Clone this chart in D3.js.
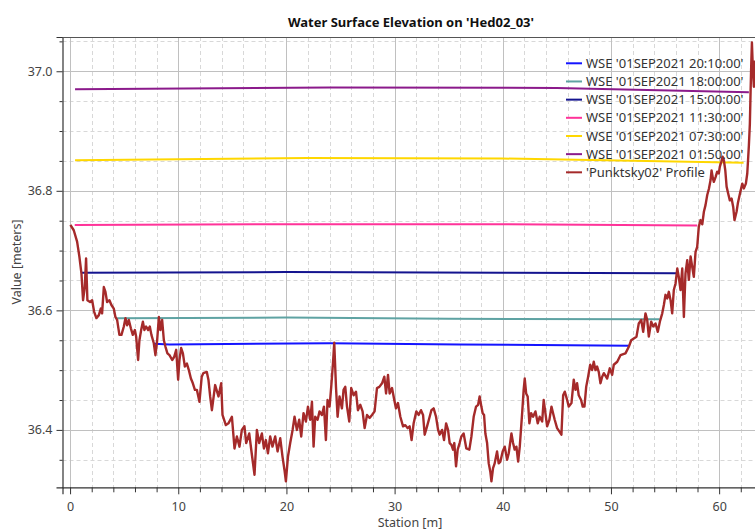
<!DOCTYPE html>
<html>
<head>
<meta charset="utf-8">
<script src="https://cdn.jsdelivr.net/npm/d3@7"></script>
<style>
  body { margin: 0; background: #fff; }
  svg { display: block; font-family: "Noto Sans", "Open Sans", sans-serif; }
</style>
</head>
<body>
<svg id="chart" width="755" height="532"></svg>
<script>
// ---- data ----
const chartTitle = "Water Surface Elevation on 'Hed02_03'";
const xTitle = "Station [m]";
const yTitle = "Value [meters]";

const xMajorTicks = [0, 10, 20, 30, 40, 50, 60];
const yMajorTicks = [36.4, 36.6, 36.8, 37.0];

// water surface profiles: label, colour, [station, elevation] points
const wseNames = [
  "WSE '01SEP2021 20:10:00'",
  "WSE '01SEP2021 18:00:00'",
  "WSE '01SEP2021 15:00:00'",
  "WSE '01SEP2021 11:30:00'",
  "WSE '01SEP2021 07:30:00'",
  "WSE '01SEP2021 01:50:00'"
];
const wseColors = ["#1414ff", "#5fa3a3", "#14148f", "#ff3399", "#ffd700", "#8b1a8b"];
const wse2010 = [[7.74, 36.544], [9.2, 36.543], [24.0, 36.545], [36.0, 36.543], [51.75, 36.541]];
const wse1800 = [[4.35, 36.587], [20.0, 36.588], [35.0, 36.586], [54.5, 36.585]];
const wse1500 = [[1.02, 36.663], [20.0, 36.664], [40.0, 36.663], [56.13, 36.662]];
const wse1130 = [[0.43, 36.743], [20.0, 36.744], [40.0, 36.744], [57.97, 36.742]];
const wse0730 = [[0.46, 36.851], [22.0, 36.855], [40.0, 36.854], [62.26, 36.847]];
const wse0150 = [[0.46, 36.970], [24.0, 36.973], [45.0, 36.972], [62.75, 36.965]];
const wseSeries = [wse2010, wse1800, wse1500, wse1130, wse0730, wse0150];

// ground profile
const profileName = "'Punktsky02' Profile";
const profileColor = "#a52a2a";
const profile = [
  [0.03,36.743],[0.34,36.734],[0.65,36.715],[0.86,36.690],[1.05,36.662],[1.20,36.617],[1.36,36.639],[1.48,36.687],[1.60,36.617],[1.85,36.614],
  [2.04,36.617],[2.22,36.598],[2.43,36.587],[2.66,36.592],[2.84,36.603],[2.96,36.595],[3.12,36.639],[3.27,36.631],[3.42,36.614],[3.64,36.617],
  [3.82,36.609],[4.04,36.603],[4.19,36.589],[4.35,36.584],[4.56,36.559],[4.75,36.559],[4.97,36.573],[5.12,36.587],[5.27,36.575],[5.43,36.584],
  [5.62,36.570],[5.80,36.559],[5.99,36.567],[6.11,36.556],[6.29,36.517],[6.41,36.550],[6.57,36.567],[6.73,36.581],[6.87,36.567],[7.03,36.573],
  [7.22,36.567],[7.37,36.573],[7.52,36.559],[7.74,36.545],[7.89,36.525],[8.05,36.550],[8.21,36.589],[8.35,36.567],[8.51,36.584],[8.67,36.550],
  [8.82,36.539],[9.00,36.528],[9.19,36.525],[9.44,36.517],[9.62,36.522],[9.81,36.534],[9.99,36.484],[10.11,36.517],[10.27,36.537],[10.43,36.528],
  [10.61,36.506],[10.80,36.511],[10.98,36.500],[11.17,36.486],[11.35,36.478],[11.54,36.467],[11.72,36.467],[11.96,36.447],[12.17,36.489],[12.32,36.495],
  [12.64,36.497],[12.79,36.484],[12.95,36.456],[13.11,36.433],[13.41,36.475],[13.72,36.456],[13.97,36.478],[14.09,36.425],[14.40,36.408],[14.64,36.411],
  [14.96,36.422],[15.20,36.369],[15.42,36.389],[15.66,36.372],[15.88,36.400],[16.12,36.406],[16.28,36.378],[16.56,36.394],[16.81,36.358],[17.05,36.325],
  [17.27,36.400],[17.48,36.378],[17.73,36.394],[17.92,36.369],[18.10,36.383],[18.29,36.361],[18.50,36.389],[18.71,36.372],[18.96,36.389],[19.18,36.364],
  [19.43,36.386],[19.64,36.355],[19.82,36.333],[19.95,36.314],[20.14,36.355],[20.35,36.378],[20.57,36.400],[20.75,36.422],[20.97,36.400],[21.18,36.417],
  [21.37,36.389],[21.58,36.428],[21.80,36.414],[21.99,36.439],[22.20,36.417],[22.36,36.447],[22.51,36.372],[22.66,36.422],[22.88,36.417],[23.06,36.431],
  [23.28,36.425],[23.47,36.439],[23.65,36.383],[23.80,36.450],[23.99,36.439],[24.14,36.472],[24.30,36.511],[24.42,36.546],[24.58,36.472],[24.73,36.422],
  [24.91,36.456],[25.13,36.436],[25.28,36.467],[25.44,36.472],[25.60,36.439],[25.81,36.414],[25.99,36.470],[26.21,36.458],[26.43,36.464],[26.61,36.433],
  [26.83,36.442],[27.04,36.431],[27.23,36.403],[27.45,36.425],[27.69,36.420],[27.91,36.425],[28.15,36.431],[28.37,36.470],[28.59,36.472],[28.84,36.478],
  [29.05,36.489],[29.21,36.461],[29.39,36.492],[29.54,36.461],[29.76,36.470],[29.97,36.450],[30.13,36.436],[30.31,36.445],[30.53,36.422],[30.78,36.406],
  [30.99,36.408],[31.20,36.403],[31.39,36.406],[31.57,36.383],[31.76,36.411],[32.01,36.431],[32.22,36.425],[32.44,36.433],[32.63,36.425],[32.78,36.392],
  [33.00,36.406],[33.21,36.420],[33.40,36.433],[33.61,36.436],[33.83,36.422],[34.02,36.400],[34.16,36.392],[34.39,36.400],[34.57,36.383],[34.76,36.411],
  [34.94,36.400],[35.09,36.378],[35.25,36.375],[35.40,36.367],[35.52,36.378],[35.68,36.339],[35.83,36.367],[36.01,36.378],[36.17,36.389],[36.38,36.394],
  [36.63,36.369],[36.91,36.367],[37.10,36.389],[37.31,36.422],[37.53,36.439],[37.72,36.442],[37.86,36.456],[38.02,36.439],[38.14,36.428],[38.27,36.425],
  [38.39,36.394],[38.55,36.378],[38.70,36.344],[38.85,36.330],[38.95,36.314],[39.10,36.336],[39.25,36.344],[39.47,36.364],[39.62,36.344],[39.78,36.347],
  [39.99,36.364],[40.18,36.372],[40.40,36.350],[40.55,36.361],[40.80,36.394],[40.95,36.378],[41.10,36.367],[41.26,36.372],[41.42,36.347],[41.57,36.372],
  [41.79,36.428],[41.93,36.467],[42.03,36.486],[42.16,36.461],[42.30,36.456],[42.46,36.411],[42.62,36.428],[42.80,36.422],[43.02,36.431],[43.23,36.411],
  [43.41,36.422],[43.64,36.414],[43.78,36.450],[43.94,36.428],[44.10,36.406],[44.31,36.417],[44.50,36.439],[44.65,36.428],[44.80,36.417],[45.02,36.403],
  [45.24,36.397],[45.42,36.392],[45.58,36.458],[45.73,36.464],[45.95,36.450],[46.10,36.439],[46.35,36.445],[46.56,36.484],[46.72,36.467],[46.87,36.478],
  [47.02,36.458],[47.24,36.450],[47.39,36.439],[47.55,36.439],[47.71,36.472],[47.89,36.489],[48.08,36.509],[48.26,36.500],[48.41,36.514],[48.57,36.500],
  [48.72,36.506],[48.87,36.497],[49.03,36.478],[49.19,36.489],[49.34,36.495],[49.65,36.486],[49.89,36.503],[50.11,36.492],[50.26,36.509],[50.58,36.514],
  [50.88,36.525],[51.34,36.528],[51.65,36.539],[51.87,36.550],[52.11,36.553],[52.36,36.556],[52.57,36.578],[52.80,36.584],[52.98,36.564],[53.19,36.595],
  [53.35,36.584],[53.50,36.556],[53.72,36.581],[53.91,36.573],[54.12,36.578],[54.33,36.564],[54.52,36.581],[54.74,36.595],[54.89,36.609],[55.04,36.626],
  [55.20,36.620],[55.35,36.631],[55.51,36.617],[55.66,36.595],[55.81,36.634],[55.97,36.645],[56.13,36.670],[56.27,36.656],[56.43,36.634],[56.59,36.670],
  [56.74,36.589],[56.89,36.662],[57.05,36.684],[57.20,36.651],[57.36,36.690],[57.51,36.673],[57.66,36.656],[57.82,36.698],[57.97,36.706],[58.12,36.740],
  [58.28,36.751],[58.44,36.744],[58.59,36.765],[58.74,36.776],[58.90,36.793],[59.05,36.803],[59.21,36.818],[59.30,36.834],[59.42,36.821],[59.51,36.815],
  [59.67,36.823],[59.82,36.832],[59.97,36.829],[60.06,36.840],[60.19,36.848],[60.32,36.857],[60.44,36.851],[60.57,36.834],[60.69,36.807],[60.84,36.795],
  [60.99,36.784],[61.15,36.787],[61.30,36.773],[61.42,36.751],[61.61,36.765],[61.73,36.779],[61.92,36.795],[62.14,36.812],[62.29,36.804],[62.47,36.812],
  [62.60,36.829],[62.75,36.876],[62.84,36.912],[62.91,36.968],[62.97,37.013],[63.03,37.048],[63.12,37.002],[63.21,36.974],[63.31,37.018]
];

// ---- layout ----
const svg = d3.select("#chart");
const plot = { left: 62.5, top: 37, right: 757, bottom: 487.3 };

const x = d3.scaleLinear().domain([-0.7, 63.5]).range([plot.left, plot.right]);
const y = d3.scaleLinear().domain([36.304, 37.0573]).range([plot.bottom, plot.top]);

const xMinor = d3.range(0, 64, 2).filter(v => !xMajorTicks.includes(v));
const yMinor = d3.range(36.35, 37.06, 0.05).map(v => +v.toFixed(2)).filter(v => !yMajorTicks.includes(v));

// grid: dashed minor lines under solid major lines
const grid = svg.append("g");
grid.selectAll("line.xmin").data(xMinor).join("line")
  .attr("x1", d => Math.round(x(d)) + 0.5).attr("x2", d => Math.round(x(d)) + 0.5)
  .attr("y1", plot.top).attr("y2", plot.bottom)
  .attr("stroke", "#d8d8d8").attr("stroke-dasharray", "4,3");
grid.selectAll("line.ymin").data(yMinor).join("line")
  .attr("y1", d => Math.round(y(d)) + 0.5).attr("y2", d => Math.round(y(d)) + 0.5)
  .attr("x1", plot.left).attr("x2", plot.right)
  .attr("stroke", "#d8d8d8").attr("stroke-dasharray", "4,3");
grid.selectAll("line.xmaj").data(xMajorTicks).join("line")
  .attr("x1", d => Math.round(x(d)) + 0.5).attr("x2", d => Math.round(x(d)) + 0.5)
  .attr("y1", plot.top).attr("y2", plot.bottom)
  .attr("stroke", "#c0c0c0");
grid.selectAll("line.ymaj").data(yMajorTicks).join("line")
  .attr("y1", d => Math.round(y(d)) + 0.5).attr("y2", d => Math.round(y(d)) + 0.5)
  .attr("x1", plot.left).attr("x2", plot.right)
  .attr("stroke", "#c0c0c0");

// data lines, clipped to plot area
svg.append("clipPath").attr("id", "plotClip").append("rect")
  .attr("x", plot.left).attr("y", plot.top)
  .attr("width", plot.right - plot.left).attr("height", plot.bottom - plot.top);

const line = d3.line().x(d => x(d[0])).y(d => y(d[1]));
const lines = svg.append("g").attr("clip-path", "url(#plotClip)");

lines.selectAll("path.wse").data(wseSeries).join("path")
  .attr("d", line)
  .attr("fill", "none")
  .attr("stroke", (d, i) => wseColors[i])
  .attr("stroke-width", 2);

lines.append("path")
  .attr("d", line(profile))
  .attr("fill", "none")
  .attr("stroke", profileColor)
  .attr("stroke-width", 2.4)
  .attr("stroke-linejoin", "round");

// axes
const axisColor = "#333";
const fmt = d3.format(".1f");

svg.append("g").attr("transform", `translate(${plot.left},0)`)
  .call(d3.axisLeft(y).tickValues(yMajorTicks).tickFormat(fmt).tickSize(6).tickPadding(4));
svg.append("g").attr("transform", `translate(${plot.left},0)`)
  .call(d3.axisLeft(y).tickValues(yMinor).tickFormat("").tickSize(3))
  .call(g => g.select(".domain").remove());

svg.append("g").attr("transform", `translate(0,${plot.bottom})`)
  .call(d3.axisBottom(x).tickValues(xMajorTicks).tickFormat(d3.format("d")).tickSize(7).tickPadding(8));
svg.append("g").attr("transform", `translate(0,${plot.bottom})`)
  .call(d3.axisBottom(x).tickValues(xMinor).tickFormat("").tickSize(5))
  .call(g => g.select(".domain").remove());

svg.selectAll(".tick line").attr("stroke", axisColor);
svg.selectAll(".domain").attr("stroke", axisColor).attr("stroke-width", 1.2);
svg.selectAll(".tick text").attr("fill", "#444").style("font-size", "12.5px")
  .style("font-family", "'Noto Sans', sans-serif");

// top border
svg.append("line")
  .attr("x1", plot.left).attr("x2", plot.right)
  .attr("y1", plot.top + 0.5).attr("y2", plot.top + 0.5)
  .attr("stroke", "#555");

// titles
svg.append("text").attr("x", 411).attr("y", 27).attr("text-anchor", "middle")
  .style("font-size", "13px").style("font-weight", "bold").attr("fill", "#111")
  .text(chartTitle);
svg.append("text").attr("x", 410).attr("y", 527).attr("text-anchor", "middle")
  .style("font-size", "12.5px").attr("fill", "#444").text(xTitle);
svg.append("text").attr("transform", "translate(21,262) rotate(-90)").attr("text-anchor", "middle")
  .style("font-size", "12.5px").attr("fill", "#444").text(yTitle);

// legend
const legendItems = wseNames.map((n, i) => ({ name: n, color: wseColors[i] }))
  .concat([{ name: profileName, color: profileColor }]);
const legend = svg.append("g").attr("transform", "translate(566,63.3)");
const li = legend.selectAll("g").data(legendItems).join("g")
  .attr("transform", (d, i) => `translate(0,${i * 18.17})`);
li.append("line").attr("x1", 0).attr("x2", 16).attr("y1", 0).attr("y2", 0)
  .attr("stroke", d => d.color).attr("stroke-width", 2);
li.append("text").attr("x", 20).attr("y", 0).attr("dy", "0.35em")
  .style("font-size", "13px").attr("fill", "#333").text(d => d.name);
</script>
</body>
</html>
